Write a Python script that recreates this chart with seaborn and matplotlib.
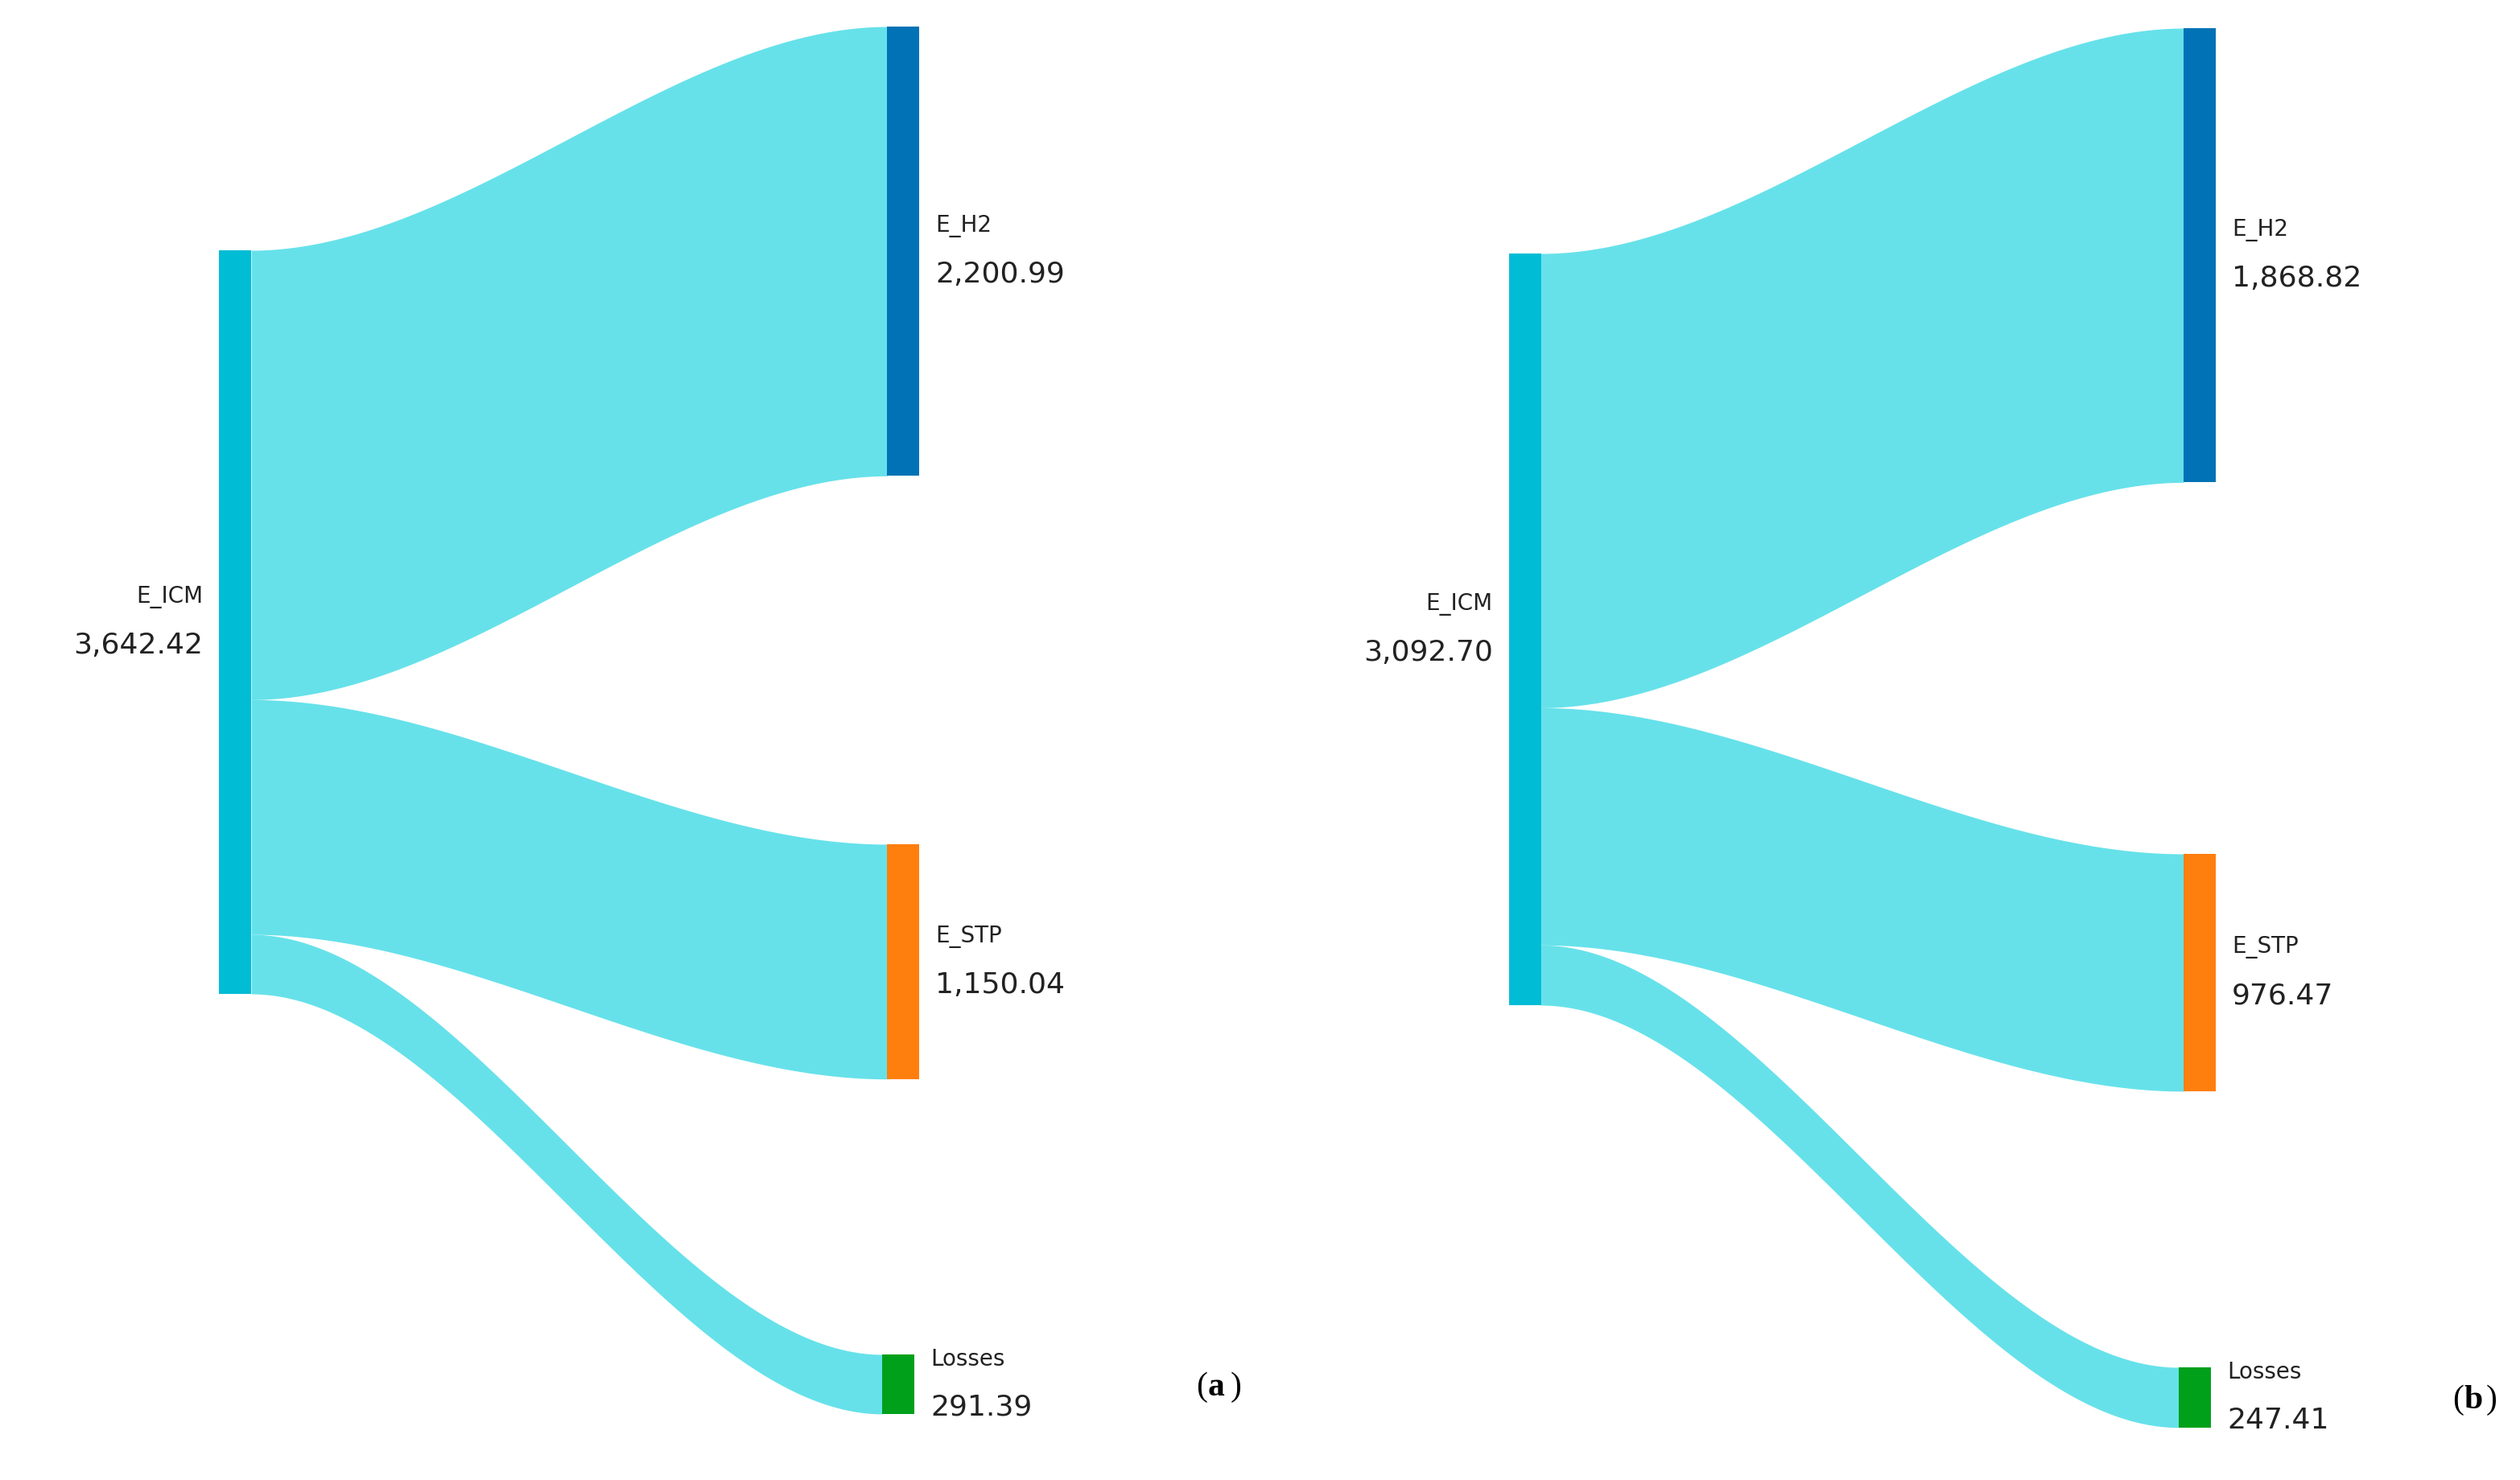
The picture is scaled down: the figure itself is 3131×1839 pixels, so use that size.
import numpy as np
import matplotlib
matplotlib.use("Agg")
import matplotlib.pyplot as plt
import seaborn as sns
from matplotlib.patches import Rectangle

sns.set_theme(style="white")
plt.rcParams['font.family'] = ['DejaVu Sans']

# Data
source_name = "E_ICM"
target_names = ["E_H2", "E_STP", "Losses"]
values_a = [2200.99, 1150.04, 291.39]
values_b = [1868.82, 976.47, 247.41]
total_a = 3642.42
total_b = 3092.70
panel_labels = ["a", "b"]

node_colors = ["#0072B5", "#FF7F0E", "#00A01A"]
src_color = "#00BCD4"
flow_color = "#66E1EA"

# layout (display pixel units on a 1565x920 canvas)
layouts = [
    dict(scale=462 / total_a, src_x=136, src_top=156, tgt_x=[551, 551, 548], tgt_top=[17, 525, 842], lab=(750, 862)),
    dict(scale=467 / total_b, src_x=937, src_top=158, tgt_x=[1356, 1356, 1353], tgt_top=[18, 531, 850], lab=(1530, 870)),
]
node_w = 20

fig = plt.figure(figsize=(31.31, 18.40), dpi=100)
ax = fig.add_axes([0, 0, 1, 1])
ax.set_xlim(0, 1565)
ax.set_ylim(920, 0)
ax.axis("off")

def fmt(v):
    return f"{v:,.2f}"

for vals, total, lay, pl in zip([values_a, values_b], [total_a, total_b], layouts, panel_labels):
    s = lay["scale"]
    sx, st = lay["src_x"], lay["src_top"]
    sh = total * s
    # flows
    y_cur = st
    t = np.linspace(0, 1, 200)
    sm = 3 * t**2 - 2 * t**3
    for v, tx, tt in zip(vals, lay["tgt_x"], lay["tgt_top"]):
        h = v * s
        x0, x1 = sx + node_w, tx
        xs = x0 + (x1 - x0) * t
        top = y_cur + (tt - y_cur) * sm
        bot = top + h
        ax.fill_between(xs, top, bot, color=flow_color, lw=0, zorder=1)
        y_cur += h
    # source node
    ax.add_patch(Rectangle((sx, st), node_w, sh, color=src_color, lw=0, zorder=2))
    cy = st + sh / 2
    ax.text(sx - 10, cy - 16, source_name, ha="right", va="center", fontsize=20, color="#222222")
    ax.text(sx - 10, cy + 14, fmt(total), ha="right", va="center", fontsize=26, color="#222222")
    # targets
    for name, v, tx, tt, c in zip(target_names, vals, lay["tgt_x"], lay["tgt_top"], node_colors):
        h = v * s
        ax.add_patch(Rectangle((tx, tt), node_w, h, color=c, lw=0, zorder=2))
        cy = tt + h / 2
        ax.text(tx + node_w + 10, cy - 16, name, ha="left", va="center", fontsize=20, color="#222222")
        ax.text(tx + node_w + 10, cy + 14, fmt(v), ha="left", va="center", fontsize=26, color="#222222")
    lx, ly = lay["lab"]
    ax.text(lx, ly, "(", ha="right", va="center", fontsize=30, family="Liberation Serif", color="black")
    ax.text(lx, ly, pl, ha="left", va="center", fontsize=30, family="Liberation Serif", fontweight="bold", color="black")
    ax.text(lx + 14, ly, ")", ha="left", va="center", fontsize=30, family="Liberation Serif", color="black")

fig.savefig("out.png", dpi=100)
